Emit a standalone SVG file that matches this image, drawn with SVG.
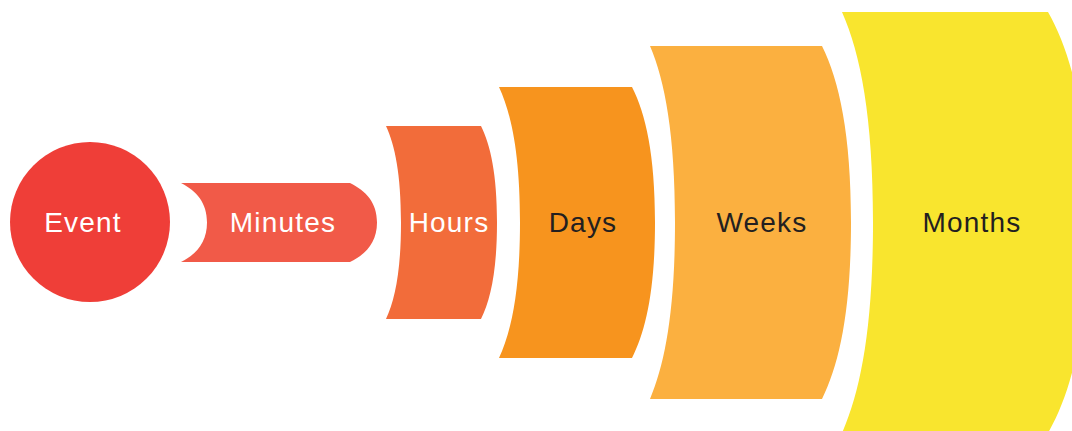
<svg xmlns="http://www.w3.org/2000/svg" width="1072" height="431" viewBox="0 0 1072 431">
<style>
.lbl{font-family:"Liberation Sans",Arial,sans-serif;font-size:28px;letter-spacing:1.2px;text-anchor:middle}
.w{fill:#ffffff}
.d{fill:#231f20}
</style>
<rect width="1072" height="431" fill="#ffffff"/>
<g id="connectors"></g>
<g id="event">
<circle cx="90" cy="222" r="80" fill="#ef3e38"/>
<text class="lbl w" x="83" y="232">Event</text>
</g>
<g id="minutes">
<path d="M181,183 L350,183 C366.2,190.9 377,202.75 377,222.5 C377,242.25 366.2,254.1 350,262 L181,262 C196.6,254.1 207,242.25 207,222.5 C207,202.75 196.6,190.9 181,183 Z" fill="#f15a48"/>
<text class="lbl w" x="283" y="232">Minutes</text>
</g>
<g id="hours">
<path d="M386,126 L481,126 C490.6,145.3 497,174.25 497,222.5 C497,270.75 490.6,299.7 481,319 L386,319 C395,299.7 401,270.75 401,222.5 C401,174.25 395,145.3 386,126 Z" fill="#f26c3a"/>
<text class="lbl w" x="449" y="232">Hours</text>
</g>
<g id="days">
<path d="M499,87 L632,87 C645.8,114.1 655,154.75 655,222.5 C655,290.25 645.8,330.9 632,358 L499,358 C511.6,330.9 520,290.25 520,222.5 C520,154.75 511.6,114.1 499,87 Z" fill="#f7941e"/>
<text class="lbl d" x="583" y="232">Days</text>
</g>
<g id="weeks">
<path d="M650,46 L822,46 C839.4,81.3 851,134.25 851,222.5 C851,310.75 839.4,363.7 822,399 L650,399 C665,363.7 675,310.75 675,222.5 C675,134.25 665,81.3 650,46 Z" fill="#fbb040"/>
<text class="lbl d" x="762" y="232">Weeks</text>
</g>
<g id="months">
<path d="M842,12 L1048,12 C1072,54.1 1088,117.25 1088,222.5 C1088,327.75 1072,390.9 1048,433 L842,433 C860.6,390.9 873,327.75 873,222.5 C873,117.25 860.6,54.1 842,12 Z" fill="#f9e52e"/>
<text class="lbl d" x="972" y="232">Months</text>
</g>
</svg>
